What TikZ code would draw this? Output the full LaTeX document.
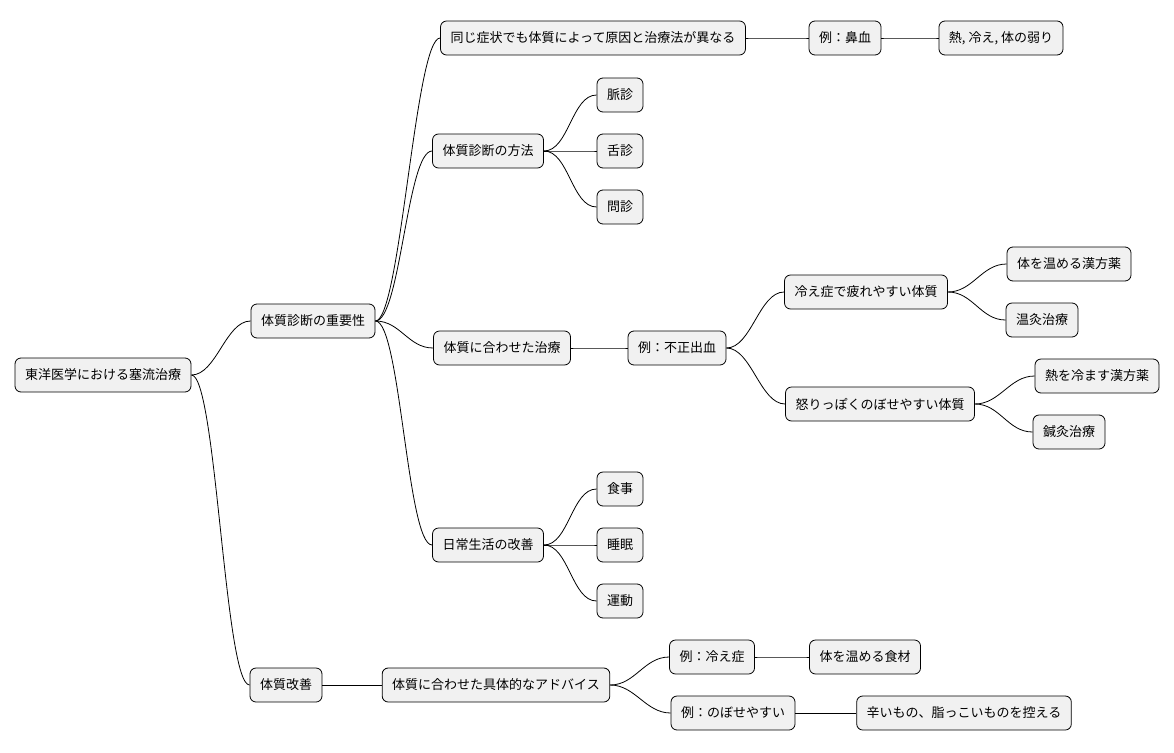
\documentclass[tikz,border=0pt]{standalone}
\usepackage{fontspec}
\setmainfont{Noto Sans CJK JP}
\begin{document}
\begin{tikzpicture}[x=1pt,y=-1pt,
 n/.style={draw=black,line width=0.8pt,fill={rgb,255:red,241;green,241;blue,241},rounded corners=6pt,minimum height=34pt,inner xsep=10pt,font=\fontsize{13}{15}\selectfont},
 c/.style={line width=0.8pt}]
\useasboundingbox (0,0) rectangle (1174,752);
\node[n] (r) at (103,375) {東洋医学における塞流治療};
\node[n] (A) at (313,321) {体質診断の重要性};
\node[n] (B) at (286,685) {体質改善};
\node[n] (A1) at (593,38) {同じ症状でも体質によって原因と治療法が異なる};
\node[n] (A1a) at (845,38) {例：鼻血};
\node[n] (A1b) at (1001,38) {熱, 冷え, 体の弱り};
\node[n] (A2) at (488,151) {体質診断の方法};
\node[n] (m1) at (620,95) {脈診};
\node[n] (m2) at (620,151) {舌診};
\node[n] (m3) at (620,207) {問診};
\node[n] (A3) at (502,348) {体質に合わせた治療};
\node[n] (ex) at (677,348) {例：不正出血};
\node[n] (h1) at (866,292) {冷え症で疲れやすい体質};
\node[n] (h1a) at (1069,264) {体を温める漢方薬};
\node[n] (h1b) at (1042,320) {温灸治療};
\node[n] (h2) at (880,404) {怒りっぽくのぼせやすい体質};
\node[n] (h2a) at (1097,376) {熱を冷ます漢方薬};
\node[n] (h2b) at (1069,432) {鍼灸治療};
\node[n] (A4) at (488,545) {日常生活の改善};
\node[n] (d1) at (620,489) {食事};
\node[n] (d2) at (620,545) {睡眠};
\node[n] (d3) at (620,601) {運動};
\node[n] (B1) at (496,685) {体質に合わせた具体的なアドバイス};
\node[n] (b1) at (712,657) {例：冷え症};
\node[n] (b1a) at (865,657) {体を温める食材};
\node[n] (b2) at (733,713) {例：のぼせやすい};
\node[n] (b2a) at (964,713) {辛いもの、脂っこいものを控える};
\foreach \p/\q in {r/A,r/B,A/A1,A/A2,A/A3,A/A4,A1/A1a,A1a/A1b,A2/m1,A2/m2,A2/m3,A3/ex,ex/h1,ex/h2,h1/h1a,h1/h1b,h2/h2a,h2/h2b,A4/d1,A4/d2,A4/d3,B/B1,B1/b1,B1/b2,b1/b1a,b2/b2a}
  \draw[c] (\p.east) .. controls +(25,0) and +(-25,0) .. (\q.west);
\end{tikzpicture}
\end{document}
